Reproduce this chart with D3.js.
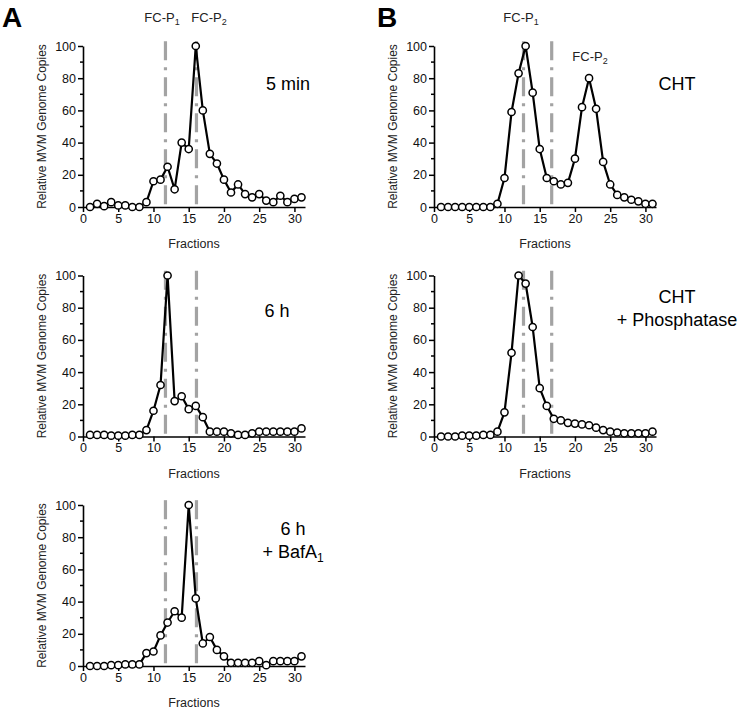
<!DOCTYPE html>
<html><head><meta charset="utf-8">
<script src="https://cdn.jsdelivr.net/npm/d3@7"></script>
<style>body{margin:0;background:#fff}svg{display:block}text{font-family:"Liberation Sans",Arial,sans-serif}</style>
</head><body>
<svg id="c" width="742" height="709"></svg>
<script>
// ---- data ----
const fractions = d3.range(1, 32);
const xTicks = [0, 5, 10, 15, 20, 25, 30];
const yTicks = [0, 20, 40, 60, 80, 100];
const a5min = [0,2,0.5,3,1,1,0,0,3,16,17,25,11,40,36,100,60,33,27,17,9,14,8,6,8,4,3,7,3,5,6];
const a6h = [1,1,1,0.5,0.5,0.5,1,1,4,16,32,100,22,25,17,19,12,3,3,3,2,1,1,2,3,3,3,3,3,3,5];
const a6hBaf = [0,0,0,0.5,0.5,1,1,1,8,9,19,27,34,30,100,42,14,18,10,6,2,2,2,2,3,0.5,3,3,3,3,6];
const bCHT = [0,0,0,0,0,0,0,0,2,18,59,83,100,71,36,18,16,14,15,30,62,80,61,28,14,7.5,6,4.5,3.5,2,2];
const bCHTPhos = [0,0,0,0.5,0.5,0.5,1,1,3,15,52,100,95,68,30,19,11,10,8.5,8,7.5,7,5.5,4,3,2.5,2,2,2,2,3];
const aMarkers = [11.7, 16.1];
const bMarkers = [12.7, 16.7];
const yLabel = "Relative MVM Genome Copies";
const xLabel = "Fractions";

const svg = d3.select("#c");

const panels = [
  {vals: a5min, x0: 83, top: 46, markers: aMarkers, label: ["5 min"], lx: 288, ly: 90},
  {vals: a6h, x0: 83, top: 275.5, markers: aMarkers, label: ["6 h"], lx: 277, ly: 317},
  {vals: a6hBaf, x0: 83, top: 505, markers: aMarkers, label: ["6 h", "+ BafA"], sub: "1", lx: 293, ly: 535},
  {vals: bCHT, x0: 434, top: 46, markers: bMarkers, label: ["CHT"], lx: 677, ly: 90},
  {vals: bCHTPhos, x0: 434, top: 275.5, markers: bMarkers, label: ["CHT", "+ Phosphatase"], lx: 677, ly: 303}
];

const H = 161, W = 222;

panels.forEach(p => {
  const g = svg.append("g");
  const x = d3.scaleLinear().domain([0, 31.5]).range([p.x0, p.x0 + W]);
  const y = d3.scaleLinear().domain([0, 100]).range([p.top + H, p.top]);

  // marker lines
  p.markers.forEach(m => {
    g.append("line").attr("x1", x(m)).attr("x2", x(m))
      .attr("y1", y(103)).attr("y2", y(0))
      .attr("stroke", "#a3a3a3").attr("stroke-width", 3.2)
      .attr("stroke-dasharray", "19,7,3,7");
  });

  // y axis
  const ya = d3.axisLeft(y).tickValues(yTicks).tickSize(5).tickSizeOuter(0).tickPadding(2);
  const yg = g.append("g").attr("transform", `translate(${p.x0},0)`).call(ya);
  yg.selectAll("line.minor").data([10,30,50,70,90]).enter().append("line")
    .attr("x1", -3).attr("x2", 0).attr("y1", d => y(d)).attr("y2", d => y(d))
    .attr("stroke", "#000").attr("stroke-width", 1.5);
  // x axis
  const xa = d3.axisBottom(x).tickValues(xTicks).tickSize(5).tickSizeOuter(0).tickPadding(2);
  const xg = g.append("g").attr("transform", `translate(0,${p.top + H})`).call(xa);
  [yg, xg].forEach(a => {
    a.select(".domain").attr("stroke", "#000").attr("stroke-width", 1.6);
    a.selectAll(".tick line").attr("stroke", "#000").attr("stroke-width", 1.5);
    a.selectAll("text").attr("font-size", 12.5).attr("fill", "#111")
      .style("font-family", '"Liberation Sans",Arial,sans-serif');
  });

  // axis titles
  g.append("text").attr("transform", `translate(${p.x0 - 37},${p.top + H / 2}) rotate(-90)`)
    .attr("text-anchor", "middle").attr("font-size", 12).attr("fill", "#222").text(yLabel);
  g.append("text").attr("x", p.x0 + W / 2).attr("y", p.top + H + 41)
    .attr("text-anchor", "middle").attr("font-size", 12.5).attr("fill", "#222").text(xLabel);

  // data line
  const pts = fractions.map((f, i) => [f, p.vals[i]]);
  g.append("path").datum(pts)
    .attr("d", d3.line().x(d => x(d[0])).y(d => y(d[1])))
    .attr("fill", "none").attr("stroke", "#000").attr("stroke-width", 2.2)
    .attr("stroke-linejoin", "round");
  g.selectAll("circle").data(pts).enter().append("circle")
    .attr("cx", d => x(d[0])).attr("cy", d => y(d[1])).attr("r", 3.6)
    .attr("fill", "#fff").attr("stroke", "#000").attr("stroke-width", 1.5);

  // condition label
  p.label.forEach((t, i) => {
    const tx = g.append("text").attr("x", p.lx).attr("y", p.ly + i * 23)
      .attr("text-anchor", "middle").attr("font-size", 18).attr("fill", "#000").text(t);
    if (i === 1 && p.sub) tx.append("tspan").attr("font-size", 12).attr("dy", 4).text(p.sub);
  });
});

// panel letters
svg.append("text").attr("x", 2).attr("y", 27).attr("font-size", 28).attr("font-weight", "bold").text("A");
svg.append("text").attr("x", 377).attr("y", 27).attr("font-size", 28).attr("font-weight", "bold").text("B");

// FC labels
function fc(xp, yp, s, anchor) {
  const t = svg.append("text").attr("x", xp).attr("y", yp).attr("text-anchor", anchor)
    .attr("font-size", 13).attr("fill", "#222").text("FC-P");
  t.append("tspan").attr("font-size", 9).attr("dy", 3).text(s);
}
fc(162, 22, "1", "middle");
fc(209, 22, "2", "middle");
fc(521, 22, "1", "middle");
fc(590, 61, "2", "middle");
</script>
</body></html>
